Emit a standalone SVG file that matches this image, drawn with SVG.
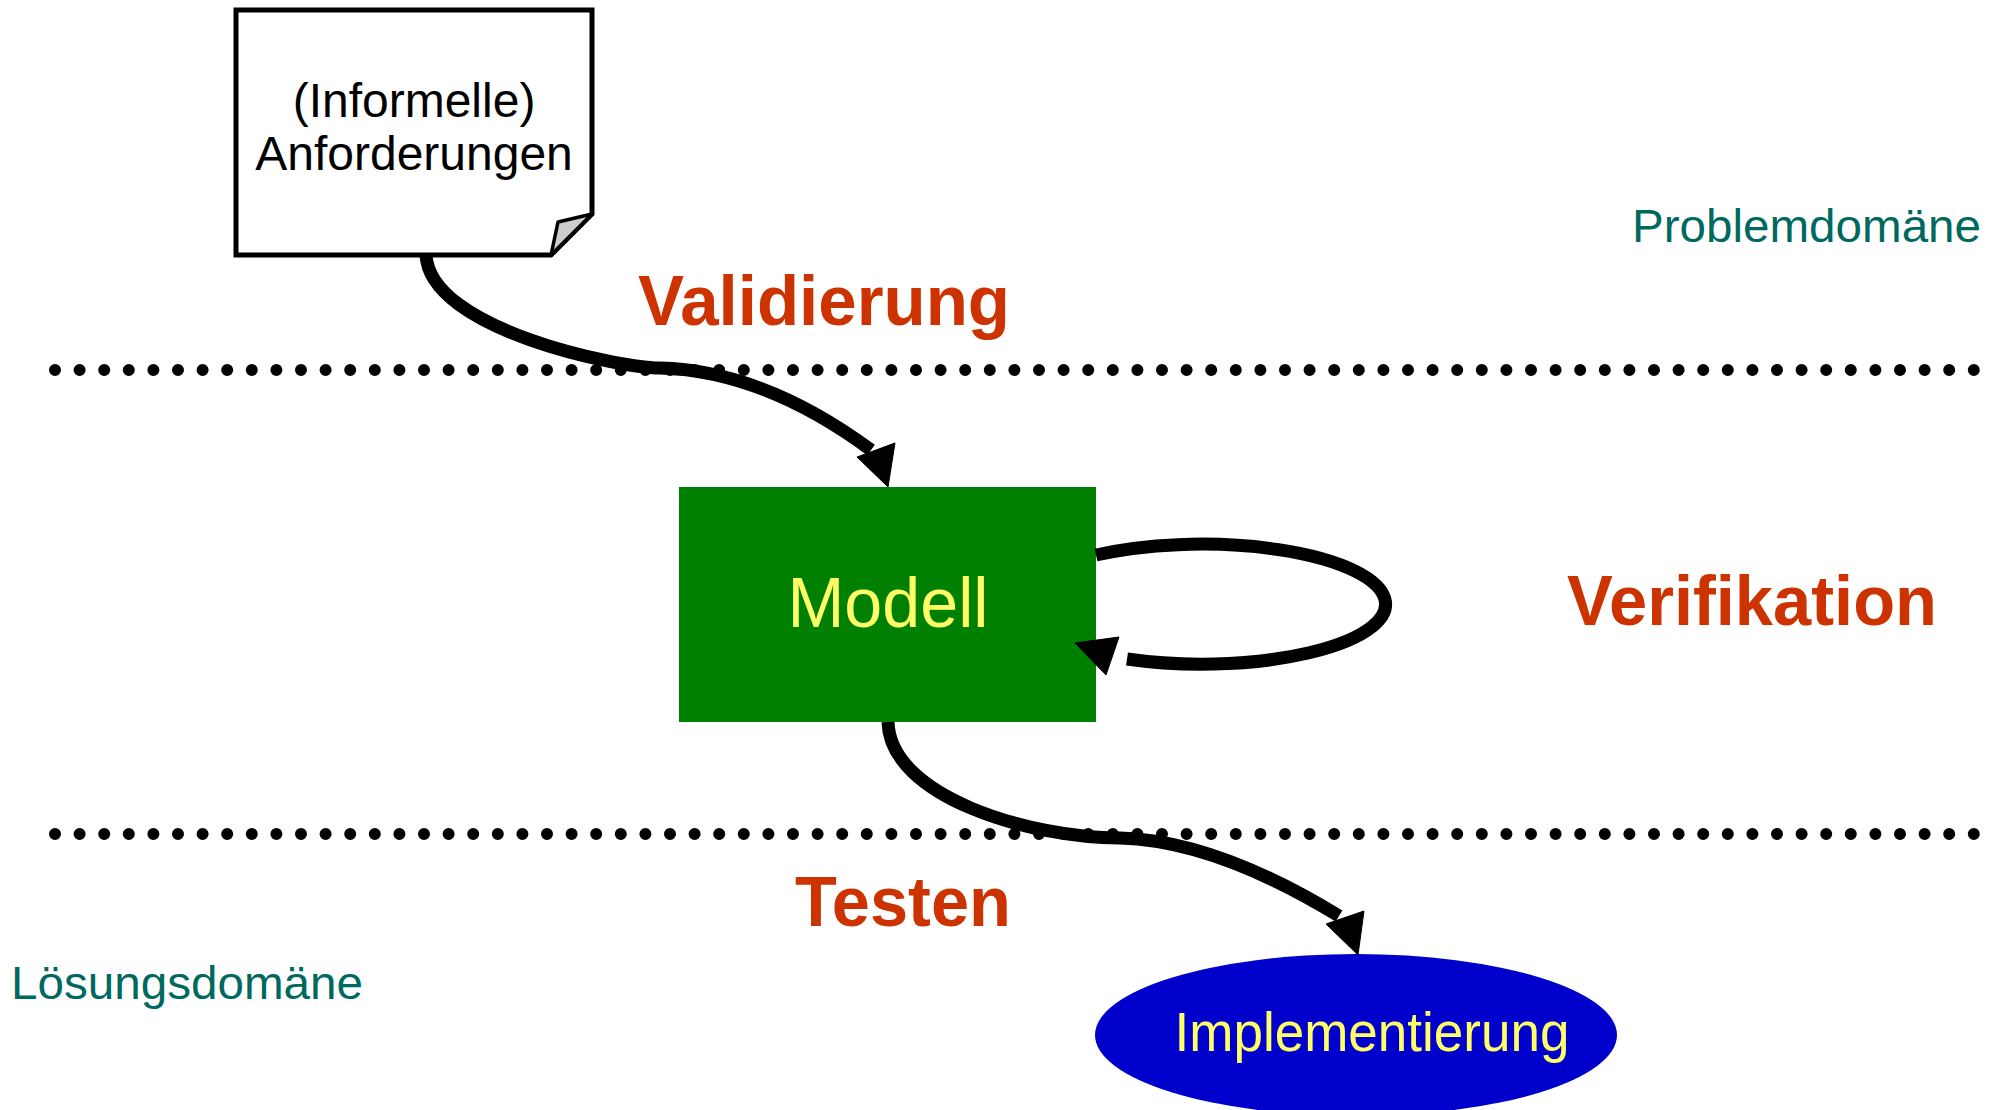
<svg xmlns="http://www.w3.org/2000/svg" width="2004" height="1110" viewBox="0 0 2004 1110">
  <style>
    .sans { font-family: "Liberation Sans", Arial, sans-serif; }
    .phase { font-family: "Liberation Sans", Arial, sans-serif; font-weight: bold; font-size: 70px; fill: #CC3300; }
    .domain { font-family: "Liberation Sans", Arial, sans-serif; font-size: 46px; fill: #00695F; }
    .dots { stroke: #000; stroke-width: 12; stroke-linecap: round; stroke-dasharray: 0 24.6; fill: none; }
    .edge { stroke: #000; stroke-width: 13; fill: none; }
    .head { fill: #000; stroke: #000; stroke-width: 1; stroke-linejoin: miter; }
  </style>

  <rect width="2004" height="1110" fill="#ffffff"/>

  <!-- domain boundaries -->
  <g id="boundaries">
    <line class="dots" x1="55" y1="370" x2="1974" y2="370"/>
    <line class="dots" x1="55" y1="834" x2="1974" y2="834"/>
  </g>

  <!-- phase and domain labels -->
  <g id="labels">
    <text class="phase" x="638" y="325" textLength="372" lengthAdjust="spacingAndGlyphs">Validierung</text>
    <text class="phase" x="1567" y="625" textLength="370" lengthAdjust="spacingAndGlyphs">Verifikation</text>
    <text class="phase" x="795" y="926" textLength="216" lengthAdjust="spacingAndGlyphs">Testen</text>
    <text class="domain" x="1632" y="242" textLength="349" lengthAdjust="spacingAndGlyphs">Problemdomäne</text>
    <text class="domain" x="11" y="999" font-size="47" textLength="352" lengthAdjust="spacingAndGlyphs">Lösungsdomäne</text>
  </g>

  <!-- requirements document -->
  <g id="anforderungen">
    <path d="M236 10 H592 V214 L551 255 H236 Z" fill="#ffffff" stroke="#000" stroke-width="5" stroke-linejoin="miter"/>
    <path d="M592 214 L558 222 L551 255 Z" fill="#cccccc" stroke="#000" stroke-width="3.5" stroke-linejoin="round"/>
    <text class="sans" x="414" y="117" font-size="48" text-anchor="middle">(Informelle)</text>
    <text class="sans" x="414" y="170" font-size="48" text-anchor="middle">Anforderungen</text>
  </g>

  <!-- model -->
  <g id="modell">
    <rect x="679" y="487" width="417" height="235" fill="#008000"/>
    <text class="sans" x="888" y="627" font-size="71" fill="#FFFF66" text-anchor="middle" textLength="201" lengthAdjust="spacingAndGlyphs">Modell</text>
  </g>

  <!-- implementation -->
  <g id="implementierung">
    <ellipse cx="1356" cy="1035" rx="261" ry="81" fill="#0000CC"/>
    <text class="sans" x="1372" y="1051" font-size="55" fill="#FFFF66" text-anchor="middle" textLength="395" lengthAdjust="spacingAndGlyphs">Implementierung</text>
  </g>

  <!-- connectors -->
  <g id="connectors">
    <path class="edge" d="M426 255 C430 330 620 368 660 368 C740 370 810 405 871 450"/>
    <polygon class="head" points="888,487 857,457 895,443"/>

    <path class="edge" d="M1096 555 A184 60 0 1 1 1127 659"/>
    <polygon class="head" points="1075,643 1119,637 1106,675"/>

    <path class="edge" d="M888 722 C890 797 1030 838 1120 838 C1200 840 1280 880 1339 916"/>
    <polygon class="head" points="1358,955 1326,924 1364,911"/>
  </g>
</svg>
